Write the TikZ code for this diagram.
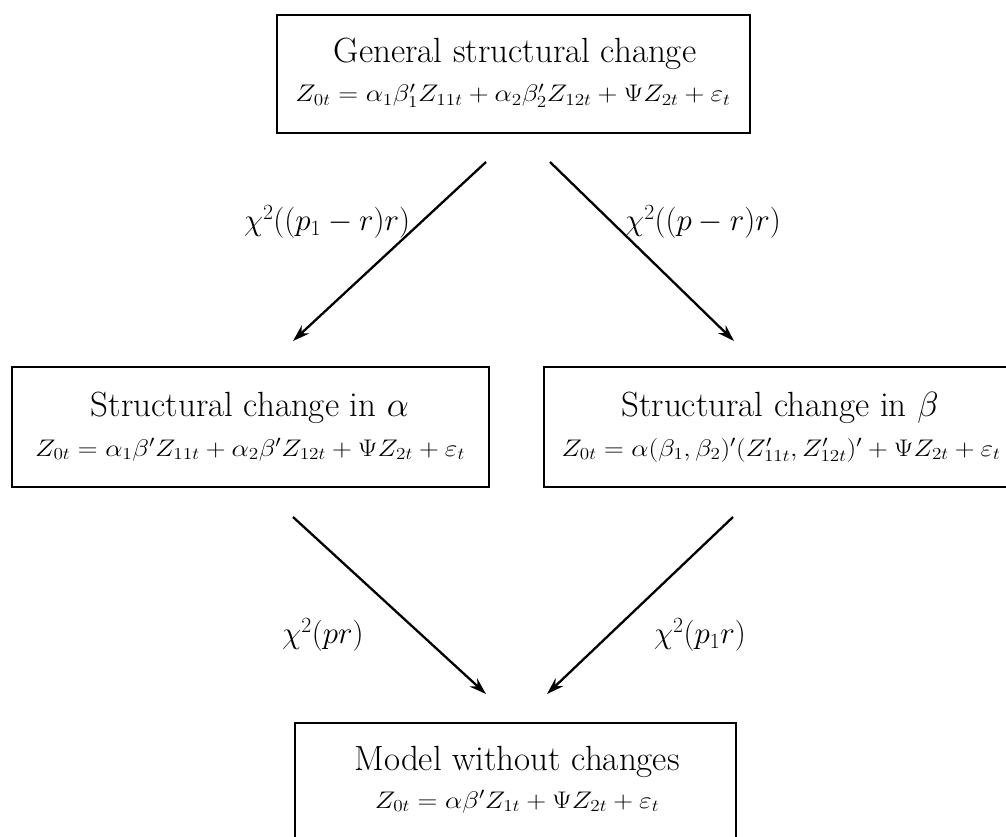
\RequirePackage{fix-cm}
\documentclass[tikz,border=0pt]{standalone}
\usepackage{graphicx}
\usetikzlibrary{arrows.meta}
\begin{document}
\begin{tikzpicture}[x=1pt,y=-1pt,
  boxframe/.style={draw,line width=1.2pt,inner sep=0pt},
  titletext/.style={inner sep=0pt,anchor=base,font=\fontsize{35}{40}\selectfont},
  formtext/.style={inner sep=0pt,anchor=base,font=\fontsize{24}{28}\selectfont},
  labeltext/.style={inner sep=0pt,font=\fontsize{31}{36}\selectfont},
  conn/.style={line width=2.3pt,-{Stealth[length=17pt,width=11pt]}}]
\useasboundingbox (0,0) rectangle (1006,837);
% boxes
\node[boxframe,minimum width=473pt,minimum height=118pt] (top) at (513.5,74) {};
\node[boxframe,minimum width=477pt,minimum height=120pt] (left) at (250.5,427) {};
\node[boxframe,minimum width=470pt,minimum height=120pt] (right) at (779,427) {};
\node[boxframe,minimum width=441pt,minimum height=124pt] (bottom) at (515.5,785) {};
% texts
\node[titletext] (toptitle) at (515,63) {General structural change};
\node[formtext] (topform) at (513,102) {\scalebox{1.145}[1]{$Z_{0t}=\alpha_1\beta_1' Z_{11t}+\alpha_2\beta_2' Z_{12t}+\Psi Z_{2t}+\varepsilon_t$}};
\node[titletext] (lefttitle) at (250,416) {Structural change in $\alpha$};
\node[formtext] (leftform) at (250,456) {\scalebox{1.145}[1]{$Z_{0t}=\alpha_1\beta' Z_{11t}+\alpha_2\beta' Z_{12t}+\Psi Z_{2t}+\varepsilon_t$}};
\node[titletext] (righttitle) at (780,416) {Structural change in $\beta$};
\node[formtext] (rightform) at (781,456) {\scalebox{1.14}[1]{$Z_{0t}=\alpha(\beta_1,\beta_2)'(Z_{11t}',Z_{12t}')'+\Psi Z_{2t}+\varepsilon_t$}};
\node[titletext] (bottomtitle) at (517,770) {Model without changes};
\node[formtext] (bottomform) at (517,808) {\scalebox{1.145}[1]{$Z_{0t}=\alpha\beta' Z_{1t}+\Psi Z_{2t}+\varepsilon_t$}};
% connector endpoints
\coordinate (a1) at (486,162);
\coordinate (a2) at (293,341);
\coordinate (b1) at (550,162);
\coordinate (b2) at (734,341);
\coordinate (c1) at (293,517);
\coordinate (c2) at (486,694);
\coordinate (d1) at (733,517);
\coordinate (d2) at (547,694);
\draw[conn] (a1) -- (a2);
\draw[conn] (b1) -- (b2);
\draw[conn] (c1) -- (c2);
\draw[conn] (d1) -- (d2);
% labels
\node[labeltext] (la) at (327,222) {$\chi^2((p_1-r)r)$};
\node[labeltext] (lb) at (703,222) {$\chi^2((p-r)r)$};
\node[labeltext] (lc) at (323,635) {$\chi^2(pr)$};
\node[labeltext] (ld) at (700,635) {$\chi^2(p_1r)$};
\end{tikzpicture}
\end{document}
